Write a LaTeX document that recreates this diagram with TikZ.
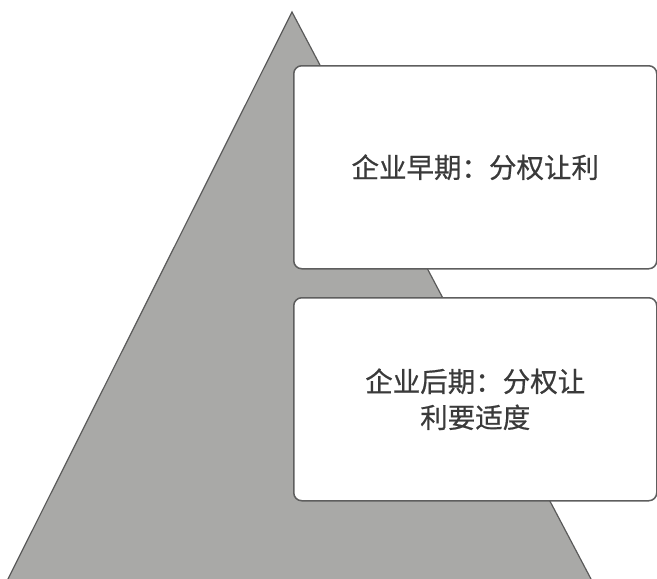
\documentclass[tikz,border=0pt]{standalone}
\usepackage{fontspec}
\newfontfamily\cjk{Noto Sans CJK SC}[FakeBold=0.6]
\definecolor{tri}{HTML}{A9A9A7}
\definecolor{triedge}{HTML}{5A5A5A}
\definecolor{boxedge}{HTML}{5E5E5E}
\definecolor{txt}{HTML}{3A3A3A}
\begin{document}
\begin{tikzpicture}[x=1pt,y=-1pt,
  stage/.style={draw=boxedge, line width=1.5pt, fill=white, rounded corners=8pt,
    minimum width=363pt, minimum height=203pt, anchor=north west, inner sep=0pt,
    text=txt, font=\cjk\fontsize{27.5}{36}\selectfont, align=center}]
\useasboundingbox (0,0) rectangle (657,579);
\coordinate (apex) at (292,12);
\coordinate (bl) at (8,579);
\coordinate (br) at (591,579);
\fill[tri] (apex) -- (br) -- (bl) -- cycle;
\draw[triedge, line width=1.2pt] (bl) -- (apex) -- (br);
\node[stage] (early) at (293,65) {企业早期：分权让利};
\node[stage] (late) at (293,297) {企业后期：分权让\\利要适度};
\end{tikzpicture}
\end{document}
